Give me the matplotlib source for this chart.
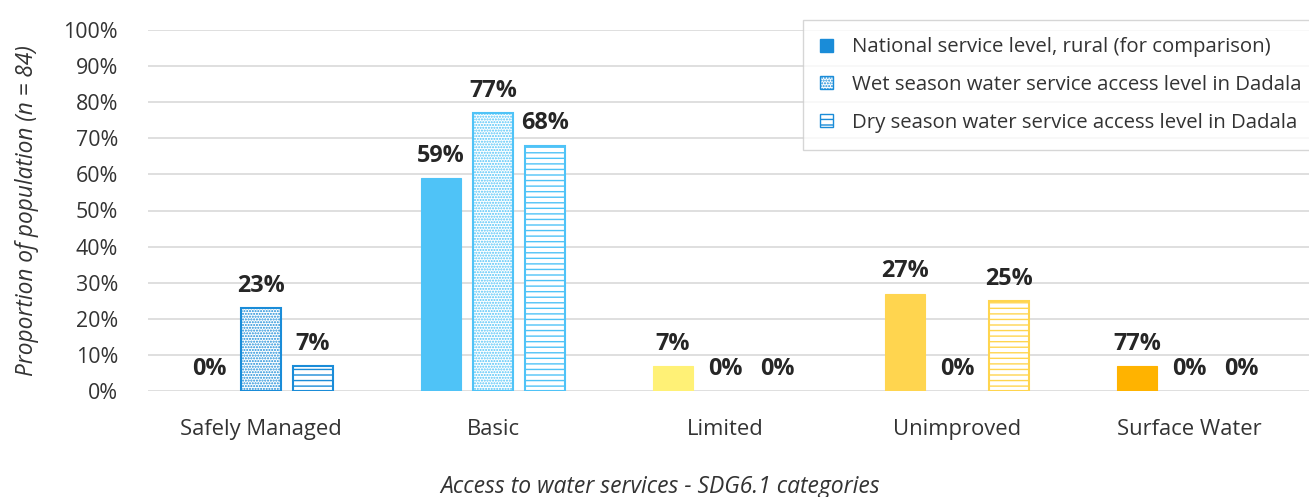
import matplotlib
matplotlib.use("Agg")
import matplotlib.pyplot as plt
from matplotlib.patches import Patch
import numpy as np

categories = ["Safely Managed", "Basic", "Limited", "Unimproved", "Surface Water"]
national = [0, 59, 7, 27, 7]
wet = [23, 77, 0, 0, 0]
dry = [7, 68, 0, 25, 0]
national_labels = ["0%", "59%", "7%", "27%", "77%"]
wet_labels = ["23%", "77%", "0%", "0%", "0%"]
dry_labels = ["7%", "68%", "0%", "25%", "0%"]
series_names = ["National service level, rural (for comparison)",
                "Wet season water service access level in Dadala",
                "Dry season water service access level in Dadala"]
yticks = [0, 10, 20, 30, 40, 50, 60, 70, 80, 90, 100]

cat_colors = ["#1a8cd8", "#4fc3f7", "#fff176", "#ffd54f", "#ffb300"]
text_col = "#333333"

plt.rcParams['font.family'] = ['Open Sans', 'DejaVu Sans']
plt.rcParams['hatch.linewidth'] = 1.0

W, H = 1309, 497
fig = plt.figure(figsize=(W/100, H/100), dpi=100)
ax = fig.add_axes([148/W, 1-391/H, (1309-148)/W, (391-30)/H])

x = np.arange(len(categories))
bw = 0.172
off = 0.224

for i in range(len(categories)):
    c = cat_colors[i]
    ax.bar(x[i]-off, national[i], bw, color=c, edgecolor=c,
           linewidth=0.8 if national[i] else 0, zorder=3)
    ax.bar(x[i], wet[i], bw, facecolor="white", edgecolor=c, hatch="......",
           linewidth=1.5 if wet[i] else 0, zorder=3)
    ax.bar(x[i]+off, dry[i], bw, facecolor="white", edgecolor=c, hatch="---",
           linewidth=1.5 if dry[i] else 0, zorder=3)
    for dx, v, lab in [(-off, national[i], national_labels[i]),
                       (0, wet[i], wet_labels[i]),
                       (off, dry[i], dry_labels[i])]:
        ax.annotate(lab, (x[i]+dx, v), xytext=(0, 16), textcoords="offset points",
                    ha="center", va="center", fontsize=16.8, fontweight="bold", color="#262626")

ax.set_xlim(-0.487, 4.517)
ax.set_ylim(0, 100)
ax.set_yticks(yticks)
ax.set_yticklabels([f"{t}%" for t in yticks])
ax.set_xticks(x)
ax.set_xticklabels(categories)
ax.tick_params(axis="y", length=0, pad=21.5, labelsize=15.4, colors=text_col)
ax.tick_params(axis="x", length=0, pad=20, labelsize=15.8, colors=text_col)
ax.grid(axis="y", color="#d9d9d9", linewidth=1.2, zorder=0)
for s in ax.spines.values():
    s.set_visible(False)

ax.set_ylabel("Proportion of population (n = 84)", fontsize=16.3, style="italic", color=text_col, labelpad=18)
fig.text(660/W, 1-487/H, "Access to water services - SDG6.1 categories", fontsize=16.5,
         style="italic", color=text_col, ha="center", va="center")

handles = [Patch(facecolor=cat_colors[0], edgecolor=cat_colors[0]),
           Patch(facecolor="white", edgecolor=cat_colors[0], hatch="......"),
           Patch(facecolor="white", edgecolor=cat_colors[0], hatch="---")]
leg = fig.legend(handles, series_names, loc="upper left", bbox_to_anchor=(803/W, 1-20/H),
                 frameon=True, fancybox=False, edgecolor="#cccccc", fontsize=14.7,
                 handlelength=0.6, handleheight=0.6, labelspacing=0.87,
                 handletextpad=0.95, borderpad=0.85, borderaxespad=0)
for t in leg.get_texts():
    t.set_color(text_col)
leg.get_frame().set_linewidth(1.0)

fig.savefig("out.png", dpi=100)
